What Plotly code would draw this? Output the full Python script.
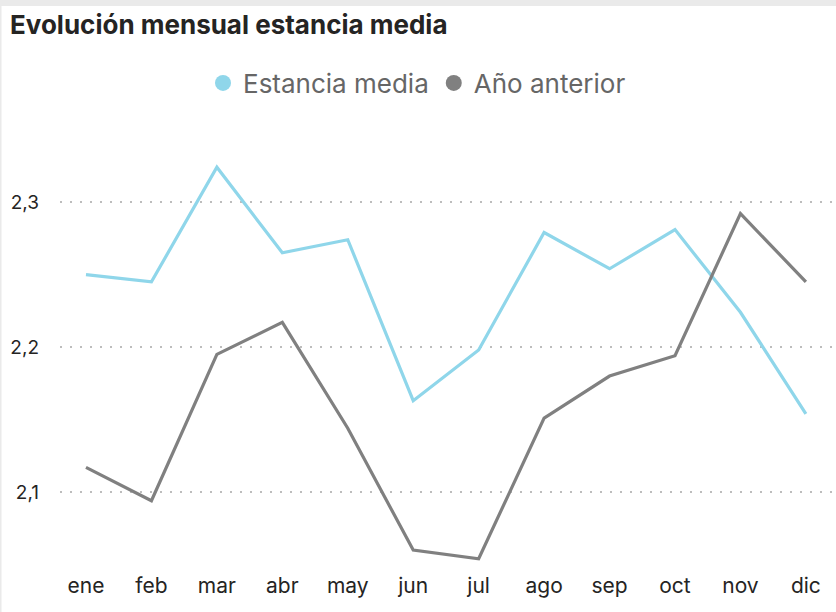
import plotly.graph_objects as go

months = ["ene", "feb", "mar", "abr", "may", "jun", "jul", "ago", "sep", "oct", "nov", "dic"]
estancia_media = [2.250, 2.245, 2.324, 2.265, 2.274, 2.163, 2.198, 2.279, 2.254, 2.281, 2.224, 2.154]
anio_anterior = [2.117, 2.094, 2.195, 2.217, 2.144, 2.060, 2.054, 2.151, 2.180, 2.194, 2.292, 2.245]
y_ticks = [2.1, 2.2, 2.3]
series_names = ["Estancia media", "Año anterior"]
series_colors = ["#8FD6EA", "#808080"]

W, H = 836, 612
L, R, T, B = 60, 0, 130, 47
dw, dh = W - L - R, H - T - B

def px_x(p):
    return (p - L) / dw

def px_y(p):
    return (H - B - p) / dh

fig = go.Figure()
for name, vals, col in zip(series_names, [estancia_media, anio_anterior], series_colors):
    fig.add_trace(go.Scatter(x=months, y=vals, mode="lines", name=name, showlegend=False,
                             line=dict(color=col, width=3.2)))
# legend entries with circular markers
for name, col in zip(series_names, series_colors):
    fig.add_trace(go.Scatter(x=[None], y=[None], mode="markers", name=name,
                             marker=dict(color=col, size=20, symbol="circle")))

fig.update_layout(
    width=W, height=H,
    margin=dict(l=L, r=R, t=T, b=B, autoexpand=False),
    paper_bgcolor="white", plot_bgcolor="white",
    separators=",.",
    font=dict(family="Inter, Open Sans, sans-serif", color="#252423"),
    title=dict(text="<b>Evolución mensual estancia media</b>", x=10 / W, xanchor="left",
               y=1 - 25 / H, yanchor="middle", font=dict(size=26, color="#252423")),
    showlegend=True,
    legend=dict(orientation="h", x=px_x(417), xanchor="center",
                y=px_y(83), yanchor="middle", font=dict(size=26, color="#666666"),
                itemsizing="trace", itemwidth=30, traceorder="normal"),
    xaxis=dict(range=[-0.397, 11.46], showgrid=False, zeroline=False, showline=False,
               ticks="", tickfont=dict(size=21, color="#252423"), ticklabelstandoff=6),
    yaxis=dict(range=[2.0497, 2.3497], tickvals=y_ticks, tickformat=".1f",
               showgrid=True, gridcolor="#BDBDBD", griddash="2px,8px", gridwidth=1.5,
               zeroline=False, showline=False, ticks="",
               tickfont=dict(size=19, color="#252423"), ticklabelstandoff=20),
    shapes=[
        dict(type="rect", xref="paper", yref="paper", x0=px_x(0), x1=px_x(W), y0=px_y(6), y1=px_y(0),
             fillcolor="#EAEAEA", line=dict(width=0), layer="above"),
        dict(type="rect", xref="paper", yref="paper", x0=px_x(0), x1=px_x(1.5), y0=px_y(H), y1=px_y(6),
             fillcolor="#EAEAEA", line=dict(width=0), layer="above"),
    ],
)

fig.write_html("out.html", config={"displayModeBar": False},
               post_script="document.body.style.margin='0';document.body.style.padding='0';")
